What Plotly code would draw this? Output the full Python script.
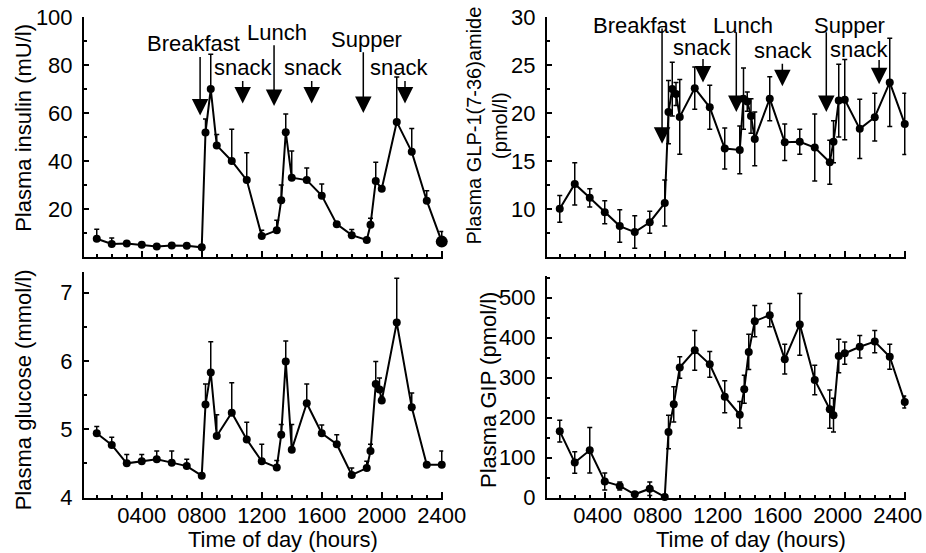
import plotly.graph_objects as go

# ---------------- data ----------------
ins_t = [1, 2, 3, 4, 5, 6, 7, 8, 8.25, 8.6, 9, 10, 11, 12, 13, 13.3, 13.6, 14,
         15, 16, 17, 18, 19, 19.25, 19.6, 20, 21, 22, 23, 24]
ins_v = [7.5, 5.3, 5.5, 5.0, 4.3, 4.7, 4.6, 3.9, 51.9, 70.0, 46.5, 40.0, 32.0, 8.6,
         11.0, 23.6, 52.0, 33.0, 32.0, 25.5, 13.6, 9.0, 7.0, 13.3, 31.6, 28.4,
         56.3, 43.8, 23.4, 6.3]
ins_e = [4.0, 2.5, 0.8, 0.8, 0.6, 0.8, 0.8, 0.6, 5.6, 14.6, 4.5, 13.2, 11.4, 2.5,
         4.2, 6.3, 7.6, 11.1, 5.0, 4.9, 1.0, 2.4, 0.8, 2.8, 7.9, 0.5,
         18.8, 9.7, 4.2, 4.2]

glu_t = [1, 2, 3, 4, 5, 6, 7, 8, 8.25, 8.6, 9, 10, 11, 12, 13, 13.3, 13.6, 14,
         15, 16, 17, 18, 19, 19.25, 19.6, 19.85, 20, 21, 22, 23, 24]
glu_v = [4.94, 4.77, 4.50, 4.53, 4.56, 4.51, 4.46, 4.32, 5.36, 5.83, 4.90, 5.24,
         4.85, 4.53, 4.44, 4.92, 5.99, 4.70, 5.38, 4.94, 4.78, 4.33, 4.43, 4.68,
         5.66, 5.58, 5.42, 6.56, 5.32, 4.48, 4.48]
glu_e = [0.10, 0.11, 0.13, 0.10, 0.12, 0.17, 0.10, 0.0, 0.30, 0.45, 0.31, 0.44,
         0.25, 0.25, 0.10, 0.15, 0.30, 0.37, 0.28, 0.12, 0.14, 0.10, 0.10, 0.10,
         0.33, 0.17, 0.05, 0.65, 0.21, 0.0, 0.20]

glp_t = [1, 2, 3, 4, 5, 6, 7, 8, 8.25, 8.5, 8.75, 9, 10, 11, 12, 13, 13.25, 13.5,
         13.75, 14, 15, 16, 17, 18, 19, 19.25, 19.6, 20, 21, 22, 23, 24]
glp_v = [10.0, 12.6, 11.15, 9.65, 8.2, 7.57, 8.6, 10.6, 20.1, 22.5, 22.0, 19.6,
         22.6, 20.6, 16.3, 16.15, 21.5, 21.2, 19.7, 17.3, 21.5, 16.95, 17.0, 16.4,
         14.87, 17.0, 21.3, 21.4, 18.35, 19.57, 23.2, 18.87]
glp_e = [1.4, 2.2, 0.95, 1.2, 1.7, 1.7, 1.15, 2.4, 3.3, 2.8, 1.2, 3.9, 2.2, 2.3,
         2.15, 2.5, 3.2, 1.0, 1.8, 2.8, 2.3, 1.9, 1.3, 3.5, 2.3, 2.2, 3.8, 4.2,
         3.1, 2.5, 4.6, 3.2]

gip_t = [1, 2, 3, 4, 5, 6, 7, 8, 8.25, 8.6, 9, 10, 11, 12, 13, 13.3, 13.6, 14,
         15, 16, 17, 18, 19, 19.25, 19.6, 20, 21, 22, 23, 24]
gip_v = [166, 87.5, 118, 40, 29, 8, 22, 1.5, 164, 233, 325, 368, 333, 252,
         207, 271, 364, 441, 456, 346, 433, 294, 221, 206, 354, 361,
         377, 390, 352, 239]
gip_e = [27, 27, 57, 21, 10, 5, 17, 5, 42, 44, 27, 50, 32, 40,
         33, 35, 44, 39, 29, 37, 77, 37, 48, 42, 42, 28, 28, 28, 31, 15]

hour_tickvals = [4, 8, 12, 16, 20, 24]
hour_ticktext = ["0400", "0800", "1200", "1600", "2000", "2400"]

meal_labels = ["Breakfast", "snack", "Lunch", "snack", "Supper", "snack"]
# insulin panel meal arrows (hours, insulin units)
ins_arrow_x = [7.89, 10.73, 12.82, 15.33, 18.77, 21.55]
ins_arrow_tail = [84, 74, 89, 74, 86, 74]
ins_arrow_tip = [59, 64, 63, 64, 60, 64]
ins_label_x = [7.42, 10.72, 13.0, 15.39, 19.0, 21.15]
ins_label_y = [89.2, 79.1, 93.7, 79.1, 90.8, 79.1]
# GLP-1 panel meal arrows
glp_arrow_x = [7.82, 10.55, 12.77, 15.84, 18.77, 22.29]
glp_arrow_tail = [29.0, 25.8, 28.6, 25.3, 28.6, 25.7]
glp_arrow_tip = [16.8, 23.2, 20.1, 22.8, 20.1, 23.0]
glp_label_x = [6.31, 10.5, 13.19, 15.87, 20.33, 20.94]
glp_label_y = [29.1, 26.8, 29.1, 26.5, 29.1, 26.6]

FONT = "Liberation Sans, Arial, sans-serif"
FS = 22
W, H = 926, 553

fig = go.Figure()

def series(t, v, e, xa, ya, symmetric, sizes=None):
    err = dict(type="data", array=e, color="black", thickness=1.5, width=2.5)
    if not symmetric:
        err.update(symmetric=False, arrayminus=[0] * len(e))
    fig.add_trace(go.Scatter(
        x=t, y=v, xaxis=xa, yaxis=ya, mode="lines+markers",
        line=dict(color="black", width=2),
        marker=dict(color="black", size=sizes if sizes else 8, opacity=1,
                    line=dict(width=0)),
        error_y=err, cliponaxis=False, showlegend=False))

ins_sizes = [8] * (len(ins_t) - 1) + [12]
series(ins_t, ins_v, ins_e, "x", "y", False, ins_sizes)
series(glp_t, glp_v, glp_e, "x2", "y2", True)
series(glu_t, glu_v, glu_e, "x3", "y3", False)
series(gip_t, gip_v, gip_e, "x4", "y4", True)

def px_x(p):
    return p / W

def px_y(p):
    return 1 - p / H

left_dom = [px_x(84), px_x(443.25)]
right_dom = [px_x(547), px_x(906.25)]
top_dom = [px_y(256.7), px_y(17.3)]
bot_dom = [px_y(497.5), px_y(272)]
bot_dom_r = [px_y(497.5), px_y(276)]

xcommon = dict(range=[0.15, 24.1], showline=True, linecolor="black", linewidth=2,
               showgrid=False, zeroline=False, ticks="inside", ticklen=6,
               tickwidth=1.5, tickcolor="black", tickvals=hour_tickvals,
               ticktext=hour_ticktext, automargin=False,
               ticklabeloverflow="allow", ticklabelstandoff=-3,
               minor=dict(dtick=1, tick0=0, ticks="inside", ticklen=3,
                          tickwidth=1.5, tickcolor="black"),
               tickfont=dict(family=FONT, size=FS, color="black"))

ycommon = dict(showline=True, linecolor="black", linewidth=2, showgrid=False,
               zeroline=False, ticks="inside", ticklen=5, tickwidth=1.5,
               tickcolor="black", automargin=False, ticklabelstandoff=5,
               ticklabeloverflow="allow",
               tickfont=dict(family=FONT, size=FS, color="black"))

fig.update_layout(
    width=W, height=H, margin=dict(l=0, r=0, t=0, b=0),
    paper_bgcolor="white", plot_bgcolor="white",
    font=dict(family=FONT, size=FS, color="black"),
    xaxis=dict(domain=left_dom, anchor="y", showticklabels=False, **xcommon),
    xaxis2=dict(domain=right_dom, anchor="y2", showticklabels=False, **xcommon),
    xaxis3=dict(domain=left_dom, anchor="y3", showticklabels=True, **xcommon),
    xaxis4=dict(domain=right_dom, anchor="y4", showticklabels=True,
                ticklabelshift=-7, **xcommon),
    yaxis=dict(domain=top_dom, anchor="x", range=[0, 100],
               tickvals=[20, 40, 60, 80, 100],
               minor=dict(dtick=10, tick0=0, ticks="inside", ticklen=3,
                          tickwidth=1.5, tickcolor="black"), **ycommon),
    yaxis2=dict(domain=top_dom, anchor="x2", range=[5, 30],
                tickvals=[10, 15, 20, 25, 30],
                minor=dict(dtick=2.5, tick0=0, ticks="inside", ticklen=3,
                           tickwidth=1.5, tickcolor="black"), **ycommon),
    yaxis3=dict(domain=bot_dom, anchor="x3", range=[4, 7.3],
                tickvals=[4, 5, 6, 7],
                minor=dict(dtick=0.5, tick0=0, ticks="inside", ticklen=3,
                           tickwidth=1.5, tickcolor="black"), **ycommon),
    yaxis4=dict(domain=bot_dom_r, anchor="x4", range=[0, 554],
                tickvals=[0, 100, 200, 300, 400, 500],
                minor=dict(dtick=50, tick0=0, ticks="inside", ticklen=3,
                           tickwidth=1.5, tickcolor="black"), **ycommon),
)

anns = []
def meal_annotations(xa, ya, ax_list, tails, tips, lx, ly):
    for i in range(len(meal_labels)):
        anns.append(dict(x=ax_list[i], y=tips[i], ax=ax_list[i], ay=tails[i],
                         xref=xa, yref=ya, axref=xa, ayref=ya, text="",
                         showarrow=True, arrowhead=2, arrowsize=2.2,
                         arrowwidth=1.5, arrowcolor="black", standoff=0))
        anns.append(dict(x=lx[i], y=ly[i], xref=xa, yref=ya, text=meal_labels[i],
                         showarrow=False, xanchor="center", yanchor="middle",
                         font=dict(family=FONT, size=FS, color="black")))

meal_annotations("x", "y", ins_arrow_x, ins_arrow_tail, ins_arrow_tip,
                 ins_label_x, ins_label_y)
meal_annotations("x2", "y2", glp_arrow_x, glp_arrow_tail, glp_arrow_tip,
                 glp_label_x, glp_label_y)

titles = [
    ("Plasma insulin (mU/l)", 23.3, 127.5, -90, FS),
    ("Plasma GLP-1(7-36)amide<br>(pmol/l)", 486.5, 126, -90, 20),
    ("Plasma glucose (mmol/l)", 23.3, 390, -90, FS),
    ("Plasma GIP (pmol/l)", 488, 390, -90, FS),
    ("Time of day (hours)", 282.5, 539, 0, FS),
    ("Time of day (hours)", 751.3, 539, 0, FS),
]
for txt, xp, yp, ang, fs in titles:
    anns.append(dict(x=px_x(xp), y=px_y(yp), xref="paper", yref="paper", text=txt,
                     showarrow=False, textangle=ang, xanchor="center",
                     yanchor="middle",
                     font=dict(family=FONT, size=fs, color="black")))

fig.update_layout(annotations=anns)
fig.write_html("out.html",
               config={"displayModeBar": False},
               post_script="document.body.style.margin='0';"
                           "document.body.style.padding='0';"
                           "document.body.style.overflow='hidden';")
